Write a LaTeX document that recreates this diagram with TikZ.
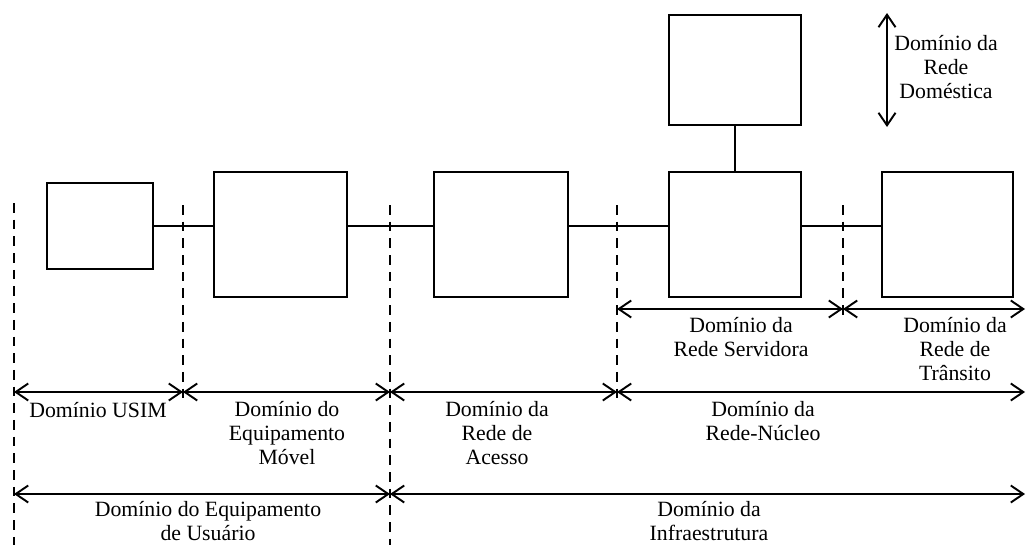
\documentclass[tikz,border=0pt]{standalone}
\usepackage{fontspec}
\setmainfont{Liberation Serif}
\usetikzlibrary{arrows.meta}

\tikzset{
	blk/.style={draw, line width=1.1pt, inner sep=0pt},
	sep/.style={line width=1.1pt, dash pattern=on 5.5pt off 4pt},
	span/.style={line width=1.1pt, {Straight Barb[length=2.5mm,width=3.4mm]}-{Straight Barb[length=2.5mm,width=3.4mm]}},
	lbl/.style={align=center, inner sep=0pt, font=\fontsize{12.4}{13.6}\selectfont},
}

\begin{document}
\begin{tikzpicture}[x=0.02cm, y=-0.02cm]
	\useasboundingbox (0,0) rectangle (1027,545);

	% blocos
	\node[blk, minimum width=2.12cm, minimum height=1.72cm] (usim) at (100,226) {};
	\node[blk, minimum width=2.66cm, minimum height=2.5cm] (me) at (280.5,234.5) {};
	\node[blk, minimum width=2.68cm, minimum height=2.5cm] (an) at (501,234.5) {};
	\node[blk, minimum width=2.64cm, minimum height=2.5cm] (sn) at (735,234.5) {};
	\node[blk, minimum width=2.64cm, minimum height=2.2cm] (hn) at (735,70) {};
	\node[blk, minimum width=2.62cm, minimum height=2.5cm] (tn) at (947.5,234.5) {};

	\draw[line width=1.1pt] (usim.east) -- (me.west |- usim.east);
	\draw[line width=1.1pt] (me.east |- usim.east) -- (an.west |- usim.east);
	\draw[line width=1.1pt] (an.east |- usim.east) -- (sn.west |- usim.east);
	\draw[line width=1.1pt] (sn.east |- usim.east) -- (tn.west |- usim.east);
	\draw[line width=1.1pt] (hn.south) -- (sn.north);

	% limites
	\coordinate (d1t) at (14,203);  \coordinate (d1b) at (14,545);
	\coordinate (d2t) at (183,205); \coordinate (d2b) at (183,405);
	\coordinate (d3t) at (390,205); \coordinate (d3b) at (390,545);
	\coordinate (d4t) at (617,205); \coordinate (d4b) at (617,405);
	\coordinate (d5t) at (843,205); \coordinate (d5b) at (843,318);

	\draw[sep] (d1t) -- (d1b);
	\draw[sep] (d2t) -- (d2b);
	\draw[sep] (d3t) -- (d3b);
	\draw[sep] (d4t) -- (d4b);
	\draw[sep] (d5t) -- (d5b);

	\coordinate (r1) at (1025,309);
	\coordinate (r2) at (1025,392);
	\coordinate (r3) at (1025,494);

	\draw[span] (d4t |- r1) -- (d5t |- r1);
	\draw[span] (d5t |- r1) -- (r1);
	\draw[span] (d1t |- r2) -- (d2t |- r2);
	\draw[span] (d2t |- r2) -- (d3t |- r2);
	\draw[span] (d3t |- r2) -- (d4t |- r2);
	\draw[span] (d4t |- r2) -- (r2);
	\draw[span] (d1t |- r3) -- (d3t |- r3);
	\draw[span] (d3t |- r3) -- (r3);

	\coordinate (vt) at (887,13);
	\coordinate (vb) at (887,127);
	\draw[span] (vt) -- (vb);

	% rotulos
	\node[lbl] (l-usim) at (98,410) {Domínio USIM};
	\node[lbl] (l-me) at (287,433) {Domínio do\\Equipamento\\Móvel};
	\node[lbl] (l-an) at (497,433) {Domínio da\\Rede de\\Acesso};
	\node[lbl] (l-cn) at (763,421) {Domínio da\\Rede-Núcleo};
	\node[lbl] (l-sn) at (741,337) {Domínio da\\Rede Servidora};
	\node[lbl] (l-tn) at (955,349) {Domínio da\\Rede de\\Trânsito};
	\node[lbl] (l-ue) at (208,521) {Domínio do Equipamento\\de Usuário};
	\node[lbl] (l-inf) at (709,521) {Domínio da\\Infraestrutura};
	\node[lbl] (l-hn) at (946,67) {Domínio da\\Rede\\Doméstica};
\end{tikzpicture}
\end{document}
